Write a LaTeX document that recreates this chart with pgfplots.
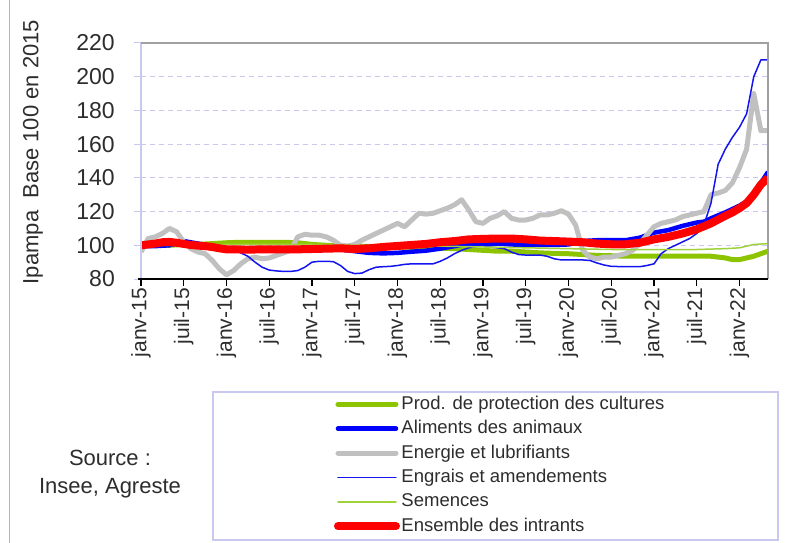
\documentclass[border=0pt]{standalone}
\usepackage{fontspec}
\setmainfont{Liberation Sans}
\usepackage{pgfplots}
\pgfplotsset{compat=1.18}
\definecolor{lav}{RGB}{200,200,240}
\definecolor{gframe}{RGB}{160,160,160}
\definecolor{txt}{RGB}{45,45,45}
\definecolor{cgreen}{RGB}{140,196,0}
\definecolor{cblue}{RGB}{0,0,255}
\definecolor{cgray}{RGB}{192,192,192}
\definecolor{cthin}{RGB}{20,20,240}
\definecolor{csem}{RGB}{160,210,60}
\definecolor{cred}{RGB}{255,0,0}
\begin{document}
\begin{tikzpicture}
\begin{axis}[
 scale only axis, width=627pt, height=236pt,
 xmin=0, xmax=88, ymin=80, ymax=220,
 axis line style={draw=none},
 xtick={0,6,...,84},
 xticklabels={janv-15,juil-15,janv-16,juil-16,janv-17,juil-17,janv-18,juil-18,janv-19,juil-19,janv-20,juil-20,janv-21,juil-21,janv-22},
 ytick={80,100,...,220},
 tick pos=left, tick align=outside,
 major tick length=7pt,
 xtick style={black, line width=1.2pt},
 ytick style={lav, line width=1pt},
 xticklabel style={rotate=90, anchor=east, font=\fontsize{21}{24}\selectfont, text=txt, inner sep=2pt},
 yticklabel style={font=\fontsize{23}{24}\selectfont, text=txt, inner sep=2pt, xshift=-17pt},
 /pgf/number format/assume math mode=true,
 ymajorgrids, major grid style={lav, dash pattern=on 5pt off 4pt, line width=1pt},
 ylabel={Ipampa\ \ Base 100 en 2015},
 ylabel style={at={(axis description cs:-0.1722,0.538)}, anchor=center, font=\fontsize{22}{24}\selectfont, text=txt},
 legend style={at={(axis description cs:0.3078,-0.4788)}, anchor=north west, draw=none, fill=none, inner sep=0pt, outer sep=0pt, font=\fontsize{18.5}{22}\selectfont, text=txt, row sep=0pt, nodes={text height=14pt, text depth=4pt, inner ysep=3.2pt, inner xsep=1.5pt}},
 legend cell align=left,
 legend image code/.code={\draw[#1, line cap=round] (0pt,0pt) -- (58pt,0pt);},
 every axis plot/.append style={line join=round},
]
\addplot[cgreen, line width=5pt] coordinates {
(0,100) (2,100) (4,100) (6,100.5) (8,100.5) (10,101) (12,101.5) (14,101.8) (16,101.8) (18,101.8) (20,101.8) (22,101.5) (24,100.5) (26,100) (28,99.5) (30,99.3) (32,99.3) (34,99) (36,99) (38,98.8) (40,98.5) (42,98.3) (44,98) (46,97.5) (48,97) (50,96.5) (52,96.5) (54,96) (56,95.5) (58,95.2) (60,95) (62,94.5) (64,94) (66,93.8) (68,93.5) (70,93.5) (72,93.5) (74,93.5) (76,93.5) (78,93.5) (80,93.5) (82,92.5) (83,91.5) (84,91.5) (85,92.5) (86,93.5) (87,95) (88,96.5)};
\addlegendentry{Prod. de protection des cultures}
\addplot[cblue, line width=4.5pt] coordinates {
(0,99.5) (2,99.5) (4,100) (6,102.5) (8,101) (10,99.5) (12,98.2) (14,97.5) (16,97.5) (18,97.2) (20,97.2) (22,97.2) (24,97.5) (26,97.5) (28,97.5) (30,96.5) (32,95.5) (34,95.2) (36,95.5) (38,96.2) (40,96.8) (42,98) (44,99.5) (46,101) (48,101) (50,101) (52,100.5) (54,100.2) (56,100.2) (58,100.2) (60,100.5) (62,102.5) (64,103) (66,103) (68,103) (70,104.5) (72,107.5) (74,109) (76,111.5) (78,113.5) (79,114) (80,116) (82,119.5) (84,123.5) (85,126) (86,130) (87,137) (88,143.5)};
\addlegendentry{Aliments des animaux}
\addplot[cgray, line width=5pt] coordinates {
(0,96) (1,104) (2,105) (3,107) (4,110) (5,108) (6,102) (7,98) (8,96) (9,95) (10,91) (11,86) (12,82.5) (13,85) (14,89) (15,92) (16,93) (17,92) (18,92.5) (19,94) (20,95.5) (21,97) (22,105) (23,106.5) (24,106) (25,106) (26,105) (27,103) (28,100) (29,99.5) (30,100.5) (31,103) (32,105) (33,107) (34,109) (35,111) (36,113) (37,111) (38,115) (39,119) (40,118.5) (41,119) (42,120.5) (43,122) (44,124) (45,127) (46,121) (47,114) (48,113) (49,116) (50,117.5) (51,120) (52,116) (53,115) (54,115) (55,116) (56,118) (57,118) (58,119) (59,120.5) (60,118.5) (61,112) (62,97) (63,93) (64,92) (65,93) (66,93) (67,94) (68,95) (69,97) (70,101) (71,106) (72,111) (73,113) (74,114) (75,115) (76,117) (77,118) (78,119) (79,120) (80,130) (81,131) (82,132.5) (83,137) (84,146) (85,157) (86,190) (87,168) (88,168)};
\addlegendentry{Energie et lubrifiants}
\addplot[cthin, line width=1.5pt] coordinates {
(0,100) (2,100) (4,100) (6,100) (8,100) (10,99.5) (12,98) (13,97) (14,95.5) (15,93.5) (16,90) (17,87) (18,85.3) (19,84.8) (20,84.5) (21,84.5) (22,85) (23,87) (24,90) (25,90.5) (26,90.5) (27,90.3) (28,88) (29,84.5) (30,83.2) (31,83.5) (32,85.5) (33,87) (34,87.3) (35,87.5) (36,88) (37,88.7) (38,89) (40,89) (41,89) (42,90.5) (43,92.5) (44,95) (45,97) (46,98.5) (47,99.3) (48,99.3) (49,99) (50,98.5) (51,98) (52,96) (53,94.5) (54,94.2) (56,94.2) (57,93.5) (58,92) (59,91.3) (61,91.3) (62,91.3) (63,91) (64,89.5) (65,88.3) (66,87.5) (68,87.3) (70,87.3) (71,88) (72,89) (73,95) (74,98) (75,100) (76,102) (77,104) (78,107) (79,112) (80,125) (81,148) (82,157) (83,164) (84,170) (85,178) (86,200) (87,210) (88,210)};
\addlegendentry{Engrais et amendements}
\addplot[csem, line width=1.5pt] coordinates {
(0,100) (6,100) (12,100.5) (18,100.5) (24,100.5) (30,100) (36,100) (42,99.5) (48,99) (54,98.5) (60,98) (66,97.5) (72,97.5) (78,97.5) (82,98) (84,98.5) (86,100.5) (88,101)};
\addlegendentry{Semences}
\addplot[cred, line width=8pt] coordinates {
(0,100) (1,100.5) (2,101) (3,101.8) (4,102) (5,101.5) (6,100.8) (7,100.2) (8,99.8) (9,99.5) (10,99) (11,98.2) (12,97.6) (14,97.5) (16,97.5) (18,97.6) (20,97.6) (22,97.6) (24,97.8) (26,98) (28,98.2) (30,97.8) (32,98.2) (34,99) (36,99.6) (38,100.2) (40,100.8) (42,101.8) (44,102.5) (46,103.5) (48,103.8) (50,104) (52,104) (54,103.5) (56,102.8) (58,102.5) (60,102.2) (62,101.8) (64,101) (66,100.6) (68,100.6) (70,101.5) (72,103.5) (74,105) (76,107) (78,109.5) (80,113) (82,117.5) (83,119.5) (84,122) (85,125) (86,130) (87,136) (88,140)};
\addlegendentry{Ensemble des intrants}
\end{axis}
\draw[lav, line width=2pt] (0,0) -- (0,236pt);
\draw[gframe, line width=2pt] (0,236pt) -- (627pt,236pt) -- (627pt,0);
\draw[black, line width=1.5pt] (-3pt,0) -- (627pt,0);
\draw[lav, line width=1.5pt] (72pt,-113pt) rectangle (637pt,-261pt);
\node[align=center, font=\fontsize{22}{28}\selectfont, text=txt] at (-31pt,-195pt) {Source :\\Insee, Agreste};
\draw[gframe!80, line width=1pt] (-131pt,279pt) -- (-131pt,-264pt);
\pgfresetboundingbox
\path (-141pt,-264pt) rectangle (657pt,279pt);
\end{tikzpicture}
\end{document}
